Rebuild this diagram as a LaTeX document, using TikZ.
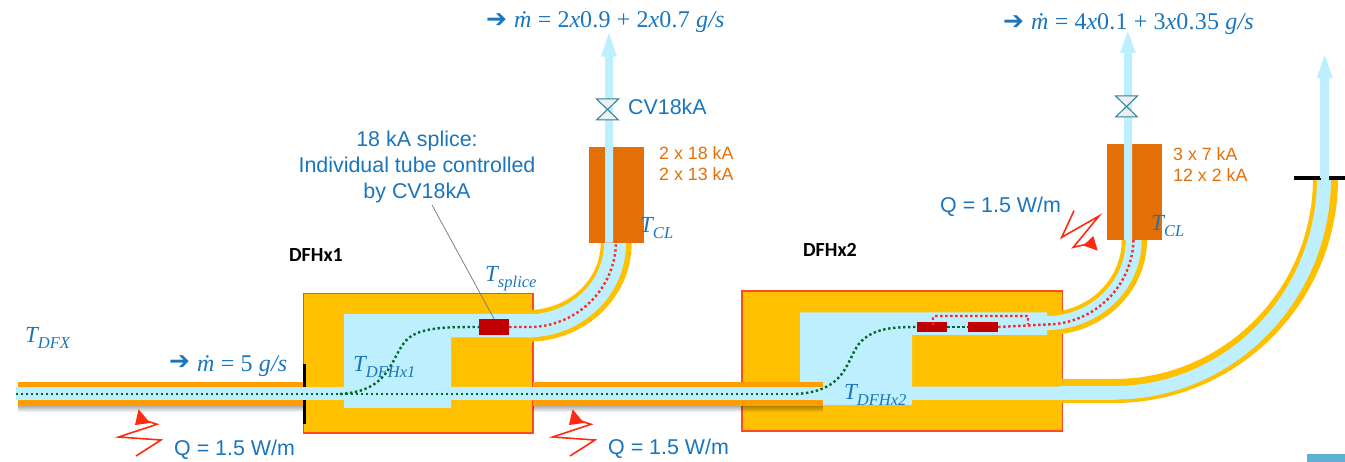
\documentclass[tikz,border=0pt]{standalone}
\usepackage{fontspec}
\setmainfont{Liberation Sans}
\newfontfamily\symfont{DejaVu Sans}
\newfontfamily\eqfont[LetterSpace=1]{Liberation Serif}
\newfontfamily\tfont{Liberation Serif}
\newfontfamily\tagfont{Carlito}
\definecolor{boxfill}{HTML}{FFC000}
\definecolor{boxline}{HTML}{FF4A1E}
\definecolor{pipeor}{HTML}{FF9E00}
\definecolor{helium}{HTML}{BDEFFF}
\definecolor{leadcol}{HTML}{E46F06}
\definecolor{txtblue}{HTML}{1A75BC}
\definecolor{splicered}{HTML}{C00000}
\definecolor{dotgreen}{HTML}{006B21}
\definecolor{dotred}{HTML}{FF2A1E}
\definecolor{valveline}{HTML}{2F8197}
\definecolor{flash}{HTML}{FF2A10}
\definecolor{patch}{HTML}{5BB1D3}
\tikzset{
  x=1pt,y=-1pt,
  dfbox/.style={fill=boxfill,draw=boxline,line width=1.1pt},
  he/.style={fill=helium},
  gold/.style={fill=boxfill},
  po/.style={fill=pipeor},
  greendots/.style={draw=dotgreen,line width=2.4pt,dash pattern=on 2.4pt off 2.6pt},
  reddots/.style={draw=dotred,line width=2.4pt,dash pattern=on 2.4pt off 2.6pt},
  lbl/.style={inner sep=0pt,anchor=west,text=txtblue,font=\fontsize{21.4}{26}\selectfont},
  eq/.style={inner sep=0pt,anchor=west,text=txtblue,font=\eqfont\fontsize{24}{28}\selectfont},
  tt/.style={inner sep=0pt,anchor=west,text=txtblue,font=\tfont\fontsize{23}{26}\selectfont},
  arr/.style={inner sep=0pt,anchor=west,text=txtblue,font=\symfont\fontsize{25}{27}\selectfont},
  lead/.style={inner sep=0pt,anchor=west,align=left,text=leadcol,font=\fontsize{17.8}{21}\selectfont},
  tag/.style={inner sep=0pt,font=\tagfont\bfseries\fontsize{20}{22}\selectfont,text=black},
  splice/.style={fill=splicered,inner sep=0pt,minimum height=0pt},
  zig/.style={draw=flash,line width=1.6pt},
  valve/.style={draw=valveline,line width=1pt,fill=black!6}
}
% quarter-ellipse band: centre x,y; inner radii; outer radii
\newcommand{\band}[7]{\fill[#1] (#2,#3+#5) .. controls (#2+.5523*#4,#3+#5) and (#2+#4,#3+.5523*#5) .. (#2+#4,#3) -- (#2+#6,#3) .. controls (#2+#6,#3+.5523*#7) and (#2+.5523*#6,#3+#7) .. (#2,#3+#7) -- cycle;}
\newcommand{\tsym}[1]{{\itshape T}\raisebox{-.28em}{\fontsize{16.5}{18}\selectfont\itshape #1}}
\newcommand{\mdot}{{\itshape ṁ}}
\begin{document}
\begin{tikzpicture}
\useasboundingbox (0,0) rectangle (1345,462);
% --- boxes
\draw[dfbox] (303.5,293.5) rectangle (533,433);
\draw[dfbox] (742,291) rectangle (1062.5,431);
% --- curved transfer lines
\band{gold}{528}{243}{72.7}{67}{103.7}{98.7}
\band{he}{528}{243}{76}{71.3}{98}{94.3}
\band{gold}{1047}{240}{74.7}{72}{100}{95}
\band{he}{1047}{240}{78.7}{76}{94.7}{90}
% --- big curve
\fill[gold] (1062,379) rectangle (1114.5,403.3);
\band{gold}{1114}{178}{199}{201}{224}{225}
\fill[he] (1060,386) rectangle (1114.5,399.6);
\band{he}{1114}{178}{203}{208}{217}{221.6}
% --- inner helium baths
\fill[he] (344,314) -- (533,314) -- (533,337.5) -- (451,337.5) -- (451,387) -- (533,387) -- (533,400) -- (451,400) -- (451,408) -- (344,408) -- cycle;
\fill[he] (800,312.3) -- (1047,312.3) -- (1047,335) -- (912,335) -- (912,386.7) -- (1063,386.7) -- (1063,400) -- (912,400) -- (912,405) -- (800,405) -- cycle;
% --- shadows of the pipes
\foreach \i in {1,...,6}{
  \fill[black,opacity=0.06] (18,406) rectangle (303,406+\i);
  \fill[black,opacity=0.06] (533,406) rectangle (822.5,406+\i);
}
% --- main pipe
\fill[po] (18,381.7) rectangle (303,387.3);
\fill[po] (18,400) rectangle (303,406);
\fill[po] (533,381.7) rectangle (822.5,387.3);
\fill[po] (533,400) rectangle (822.5,406);
\fill[he] (15.5,387.3) rectangle (344,400);
\fill[he] (533,387.3) rectangle (822.5,400);
% --- black plates
\fill[black] (302.5,364) rectangle (306,386.7);
\fill[black] (302.5,400) rectangle (306,424);
\fill[black] (1294,176) rectangle (1320.7,180);
\fill[black] (1328.7,176) rectangle (1345,180);
% --- current leads
\node[fill=leadcol,inner sep=0pt,minimum width=55pt,minimum height=96pt] (cla) at (616.5,194.7) {};
\node[fill=leadcol,inner sep=0pt,minimum width=55pt,minimum height=96pt] (clb) at (1134.5,192) {};
% --- vent arrows
\fill[he] (605,242.7) -- (605,56.7) -- (601,56.7) -- (609,33) -- (617,56.7) -- (613,56.7) -- (613,242.7) -- cycle;
\fill[he] (1124,240) -- (1124,53) -- (1120,53) -- (1127.8,31) -- (1135.7,53) -- (1132,53) -- (1132,240) -- cycle;
\fill[he] (1320,178) -- (1320,78) -- (1316.7,78) -- (1324.7,55) -- (1332.7,78) -- (1329,78) -- (1329,178) -- cycle;
% --- valves
\draw[valve] (596.5,99) -- (618.5,99) -- (596.5,120) -- (618.5,120) -- cycle;
\draw[valve] (1115.5,96) -- (1137.5,96) -- (1115.5,117) -- (1137.5,117) -- cycle;
% --- splices
\node[splice,minimum width=30pt,minimum height=16pt] (spa) at (494,327) {};
\node[splice,minimum width=30pt,minimum height=10pt] (spb) at (932,327) {};
\node[splice,minimum width=30pt,minimum height=10pt] (spc) at (983,327) {};
% --- coordinates of the flow paths
\coordinate (dfx) at (16,394);
\coordinate (cla-in) at (616,241);
\coordinate (clb-in) at (1133.5,238);
\coordinate (endb) at (796,394);
% --- green lines
\draw[greendots] (dfx) -- (endb);
\draw[greendots] (340,394) .. controls (395,391) and (390,352) .. (410,337) .. controls (424,327) and (450,327) .. (spa.west);
\draw[greendots] (endb) .. controls (853,391) and (845,352) .. (865,338) .. controls (878,328) and (895,327) .. (spb.west);
\draw[greendots] (spb.east) -- (spc.west);
% --- red lines
\draw[reddots] (spa.east) -- (530,327) .. controls (575,327) and (616,290) .. (cla-in);
\draw[reddots] (spc.east) -- (1047,324.5) .. controls (1095,324) and (1133.5,285) .. (clb-in);
\draw[reddots] (933,325) -- (933,318) -- (935,316) -- (1028,316) -- (1028,324.5);
% --- heat input zig-zags
\coordinate (za) at (0,0);
\coordinate (zb) at (434,0);
\foreach \o in {za,zb}{
  \begin{scope}[shift={(\o)}]
    \draw[zig] (136,456) -- (161,440) -- (118.6,437) -- (157,424.3) -- (147,421);
    \fill[flash] (138.6,409.3) -- (135,425) -- (150,423) -- cycle;
  \end{scope}
}
\draw[zig] (1074,210.7) -- (1061.7,237.3) -- (1099,216) -- (1073.3,247.3) -- (1088,244);
\fill[flash] (1097.7,250.7) -- (1093.3,236) -- (1083.3,245.5) -- cycle;
% --- corner patch
\fill[patch] (1307,454) rectangle (1345,462);
% --- texts
\node[lbl,align=center,anchor=center] (note) at (417,166.5) {18 kA splice:\\Individual tube controlled\\by CV18kA};
\coordinate (note-end) at (432,205);
\draw[black!50,line width=0.8pt] (note-end) -- (spa.north);
\node[lbl] (cv) at (628,107) {CV18kA};
\node[lead] (lda) at (659,163.5) {2 x 18 kA\\2 x 13 kA};
\node[lead] (ldb) at (1173,164.5) {3 x 7 kA\\12 x 2 kA};
\node[tag] (dfh1) at (316,255) {DFHx1};
\node[tag] (dfh2) at (830,250) {DFHx2};
\node[lbl] (qa) at (174,450) {Q = 1.5 W/m};
\node[lbl] (qb) at (608,449) {Q = 1.5 W/m};
\node[lbl] (qc) at (940,207) {Q = 1.5 W/m};
\node[arr] (aa) at (169,363) {\char"2794};
\node[arr] (ab) at (486,21) {\char"2794};
\node[arr] (ac) at (1003,23) {\char"2794};
\node[eq] (ma) at (197,366) {\mdot\ = 5 {\itshape g/s}};
\node[eq] (mb) at (514,22) {\mdot\ = 2{\itshape x}0.9 + 2{\itshape x}0.7 {\itshape g/s}};
\node[eq] (mc) at (1031,24) {\mdot\ = 4{\itshape x}0.1 + 3{\itshape x}0.35 {\itshape g/s}};
\node[tt] (tdfx) at (25,338) {\tsym{DFX}};
\node[tt] (tsp) at (485,279) {\tsym{splice}};
\node[tt] (tcla) at (640,228) {\tsym{CL}};
\node[tt] (tclb) at (1151,226) {\tsym{CL}};
\node[tt] (tha) at (353,367) {\tsym{DFHx1}};
\node[tt] (thb) at (844,395) {\tsym{DFHx2}};
\end{tikzpicture}
\end{document}
